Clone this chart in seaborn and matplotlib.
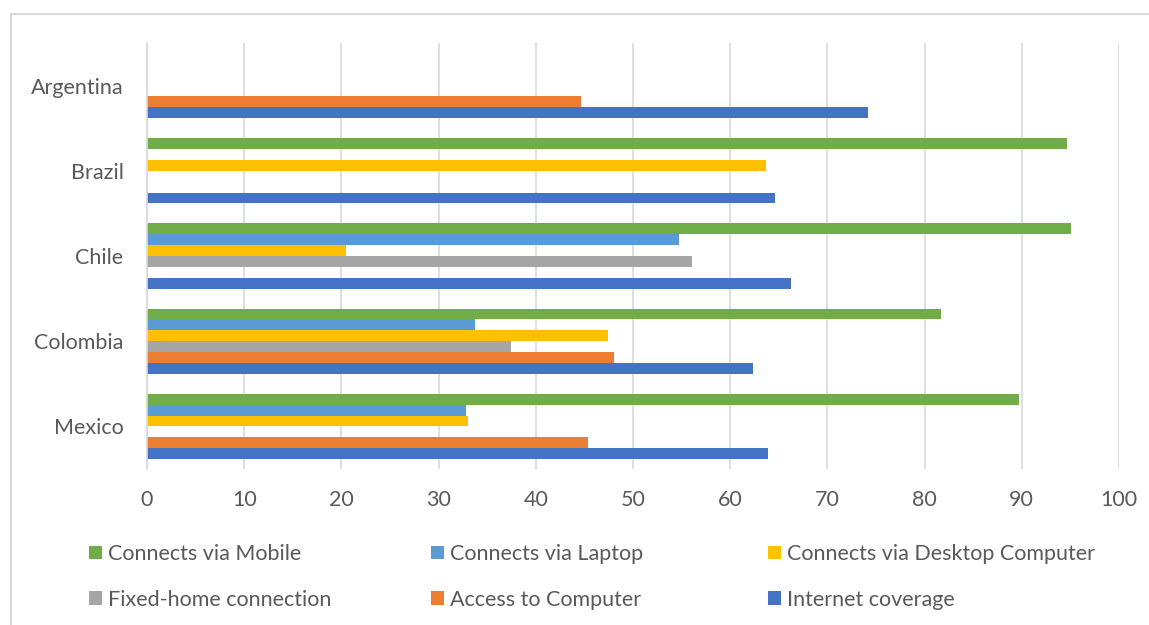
import numpy as np
import pandas as pd
import matplotlib
matplotlib.use("Agg")
import matplotlib.pyplot as plt
import seaborn as sns
from matplotlib.patches import Rectangle, Patch

countries = ["Argentina", "Brazil", "Chile", "Colombia", "Mexico"]
series = ["Connects via Mobile", "Connects via Laptop", "Connects via Desktop Computer",
          "Fixed-home connection", "Access to Computer", "Internet coverage"]
mobile = [np.nan, 94.6, 95.1, 81.7, 89.7]
laptop = [np.nan, np.nan, 54.7, 33.7, 32.8]
desktop = [np.nan, 63.7, 20.5, 47.4, 33.0]
fixed_home = [np.nan, np.nan, 56.1, 37.4, np.nan]
access_computer = [44.7, np.nan, np.nan, 48.0, 45.4]
internet = [74.2, 64.6, 66.3, 62.3, 63.9]
colors = ["#70AD47", "#5B9BD5", "#FFC000", "#A5A5A5", "#ED7D31", "#4472C4"]
xticks = [0, 10, 20, 30, 40, 50, 60, 70, 80, 90, 100]

values = [mobile, laptop, desktop, fixed_home, access_computer, internet]
rows = []
for s, vals in zip(series, values):
    for c, v in zip(countries, vals):
        rows.append({"Country": c, "Series": s, "Value": v})
df = pd.DataFrame(rows)

sns.set_theme(style="white")
plt.rcParams["font.family"] = ["Lato", "DejaVu Sans"]
TXT = "#595959"

fig = plt.figure(figsize=(11.49, 6.25), dpi=100)
W, H = 1149, 625
ax = fig.add_axes([147 / W, 1 - 469 / H, (1119 - 147) / W, (469 - 43) / H])

sns.barplot(data=df, y="Country", x="Value", hue="Series", order=countries,
            hue_order=series, palette=colors, orient="h", width=0.767,
            linewidth=0, saturation=1, ax=ax, legend=False, errorbar=None)

ax.set_xlim(0, 100)
ax.set_xticks(xticks)
ax.set_xticklabels([str(t) for t in xticks])
ax.set_ylim(len(countries) - 0.5, -0.5)
ax.set_xlabel("")
ax.set_ylabel("")
ax.grid(axis="x", color="#D9D9D9", linewidth=1.2)
ax.grid(axis="y", visible=False)
ax.set_axisbelow(True)
for sp in ["top", "right", "bottom"]:
    ax.spines[sp].set_visible(False)
ax.spines["left"].set_color("#D9D9D9")
ax.spines["left"].set_linewidth(1.2)
ax.tick_params(axis="x", length=0, pad=15, labelsize=15.5, labelcolor=TXT)
ax.tick_params(axis="y", length=0, pad=17, labelsize=15.5, labelcolor=TXT)

# chart area border
fig.patches.append(Rectangle((11 / W, -0.1), 1.2, 1 - 14 / H + 0.1, transform=fig.transFigure,
                             fill=False, edgecolor="#D9D9D9", linewidth=1.5))

# legend: three columns, two rows
cols = [(0, 3), (1, 4), (2, 5)]
xpos = [89, 431, 768]
for (a, b), xp in zip(cols, xpos):
    handles = [Patch(facecolor=colors[a], edgecolor="none"),
               Patch(facecolor=colors[b], edgecolor="none")]
    fig.legend(handles, [series[a], series[b]], loc="upper left",
               bbox_to_anchor=(xp / W, 1 - 544 / H), frameon=False,
               fontsize=15.5, labelcolor=TXT, handlelength=0.6, handleheight=0.6,
               handletextpad=0.3, labelspacing=1.2, borderaxespad=0, borderpad=0)

fig.savefig("out.png", dpi=100)
